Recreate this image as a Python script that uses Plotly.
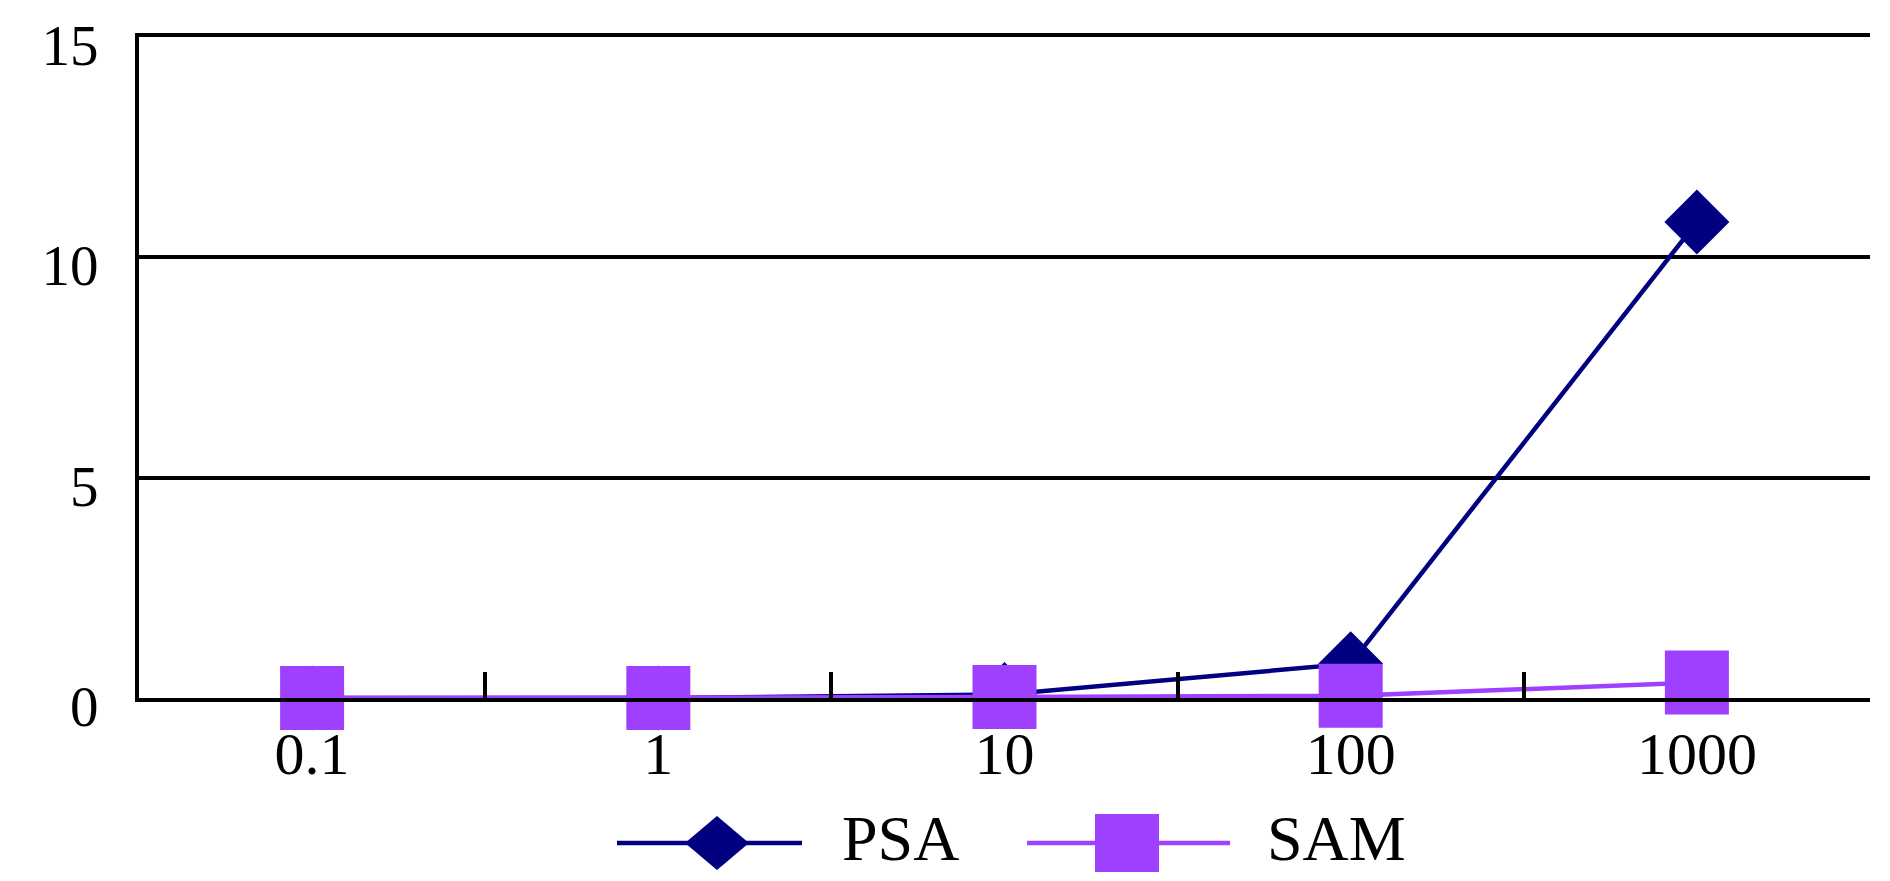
import plotly.graph_objects as go

# данные с графика
categories = ['0.1', '1', '10', '100', '1000']
psa = [0.0, 0.0, 0.08, 0.78, 10.8]
sam = [0.0, 0.0, 0.02, 0.05, 0.35]
y_ticks = [0, 5, 10, 15]

# страница добавляет отступ body 8px, поэтому всё сдвигаем на него
OFF = 8
W, H = 1890 - OFF, 881 - OFF
ML, MR, MT, MB = 139 - OFF, 20, 37 - OFF, 183
FONT = 'Liberation Serif'
NAVY = '#000080'
VIOLET = '#A040FF'

fig = go.Figure()
fig.add_trace(go.Scatter(x=categories, y=psa, name='PSA', mode='lines+markers',
                         line=dict(color=NAVY, width=4.5),
                         marker=dict(symbol='diamond', size=50, color=NAVY, line=dict(width=0)),
                         cliponaxis=False, showlegend=False))
fig.add_trace(go.Scatter(x=categories, y=sam, name='SAM', mode='lines+markers',
                         line=dict(color=VIOLET, width=4.5),
                         marker=dict(symbol='square', size=64, color=VIOLET, line=dict(width=0)),
                         cliponaxis=False, showlegend=False))


# пиксели экрана -> доли области построения
def px_x(p):
    return (p - OFF - ML) / (W - ML - MR)


def px_y(p):
    return (H - MB - (p - OFF)) / (H - MT - MB)


# своя легенда: линия, маркер, подпись
legend_y = px_y(843)
text_y = px_y(838)
items = [('PSA', NAVY, 617, 802, 717, 841, 'diamond'),
         ('SAM', VIOLET, 1027, 1230, 1127, 1266, 'square')]
for name, col, lx0, lx1, mx, tx, sym in items:
    fig.add_shape(type='line', xref='paper', yref='paper',
                  x0=px_x(lx0), x1=px_x(lx1), y0=legend_y, y1=legend_y,
                  line=dict(color=col, width=4.5))
    if sym == 'diamond':
        fig.add_shape(type='path', xref='paper', yref='paper',
                      xsizemode='pixel', ysizemode='pixel',
                      xanchor=px_x(mx), yanchor=legend_y,
                      path='M0,-27 L32,0 L0,27 L-32,0 Z',
                      fillcolor=col, line=dict(width=0))
    else:
        fig.add_shape(type='rect', xref='paper', yref='paper',
                      xsizemode='pixel', ysizemode='pixel',
                      xanchor=px_x(mx), yanchor=legend_y,
                      x0=-32, x1=32, y0=-29, y1=29,
                      fillcolor=col, line=dict(width=0))
    fig.add_annotation(text=name, xref='paper', yref='paper', x=px_x(tx), y=text_y,
                       xanchor='left', yanchor='middle', showarrow=False, borderpad=0,
                       font=dict(family=FONT, size=64, color='black'))

fig.update_layout(width=W, height=H, margin=dict(l=ML, r=MR, t=MT, b=MB),
                  plot_bgcolor='white', paper_bgcolor='white',
                  font=dict(family=FONT, size=60, color='black'),
                  showlegend=False)
fig.update_xaxes(type='category', range=[-0.5, 4.5], showgrid=False, automargin=False,
                 showline=True, linecolor='black', linewidth=4, mirror=True,
                 tickson='boundaries', ticks='inside', ticklen=26, tickwidth=4, tickcolor='black',
                 ticklabelstandoff=0)
fig.update_yaxes(range=[0, 15], tickvals=y_ticks, showgrid=True, gridcolor='black', gridwidth=4,
                 zeroline=False, showline=True, linecolor='black', linewidth=4, automargin=False,
                 ticks='', ticklabelstandoff=25, ticklabelshift=8, ticklabeloverflow='allow',
                 tickfont=dict(size=57))

fig.write_html('out.html')
